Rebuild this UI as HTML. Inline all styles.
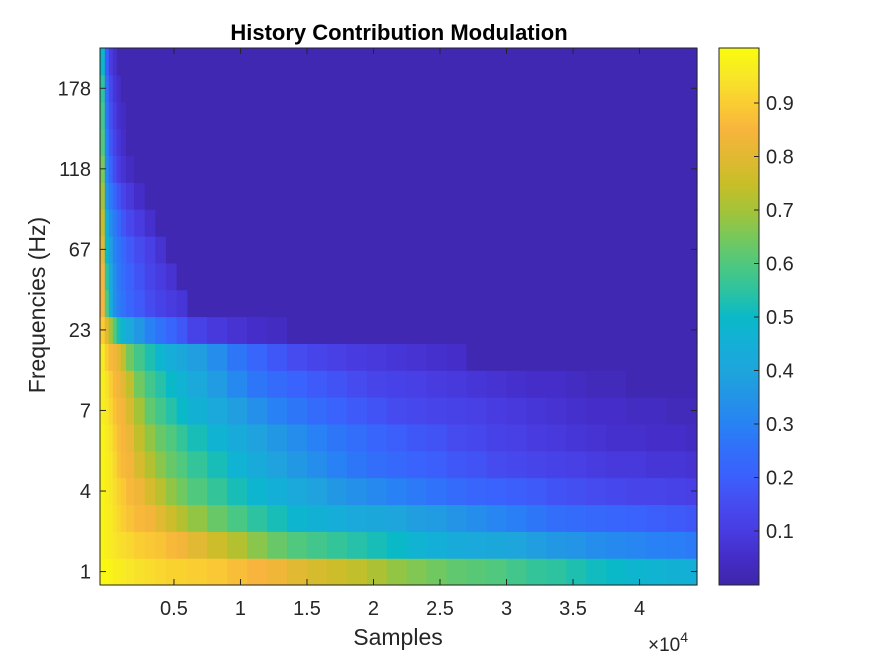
<!DOCTYPE html>
<html><head><meta charset="utf-8">
<style>
body{margin:0;background:#fff;}
svg{display:block;font-family:"Liberation Sans",Arial,sans-serif;}
</style></head>
<body>
<svg id="chart" width="875" height="656" viewBox="0 0 875 656">
<rect width="875" height="656" fill="#fff"/>
<g id="cells"></g>
<g id="cbar"></g>
<g id="axes"></g>
<text x="399" y="40" text-anchor="middle" font-size="22" font-weight="bold" fill="#000">History Contribution Modulation</text>
<text transform="translate(45,305) rotate(-90)" text-anchor="middle" font-size="23" fill="#262626">Frequencies (Hz)</text>
<text x="398" y="645" text-anchor="middle" font-size="23" fill="#262626">Samples</text>
<text x="648" y="651" font-size="19" fill="#262626">×10<tspan dy="-9" font-size="14">4</tspan></text>
</svg>
<script>
const colEdges=[-560,-200,100,400,700,1000,1400,2000,2800,3600,4400,5200,6000,7500,9000,10500,12000,13500,15000,16500,18000,19500,21000,22500,24000,25500,27000,28500,30000,31500,33000,34500,36000,37500,39000,40500,42000,43500,44320];
const BASE=0.015;
const row0=[.99,.99,.98,.97,.97,.96,.95,.94,.93,.92,.91,.91,.9,.89,.87,.85,.83,.8,.78,.76,.74,.71,.68,.66,.64,.62,.61,.6,.58,.56,.55,.53,.51,.5,.48,.47,.46,.45];
const row1=[.98,.97,.96,.95,.94,.93,.92,.9,.89,.88,.86,.84,.8,.76,.72,.67,.63,.6,.58,.56,.54,.52,.5,.47,.45,.43,.42,.41,.4,.38,.36,.35,.33,.32,.31,.3,.29,.28];
const row2=[.98,.97,.96,.94,.92,.9,.88,.86,.84,.8,.76,.72,.68,.63,.59,.55,.52,.48,.46,.44,.42,.41,.4,.38,.37,.35,.33,.31,.29,.27,.25,.24,.23,.22,.21,.2,.19,.18];
const row3=[.98,.97,.95,.93,.91,.89,.86,.83,.78,.73,.68,.64,.6,.56,.52,.48,.45,.42,.39,.36,.34,.32,.3,.28,.26,.24,.22,.21,.2,.19,.17,.16,.15,.14,.13,.13,.12,.11];
const row4=[.98,.97,.95,.92,.88,.86,.84,.78,.72,.67,.63,.6,.56,.52,.47,.43,.39,.36,.33,.3,.27,.25,.23,.21,.2,.18,.17,.15,.14,.13,.12,.11,.1,.09,.09,.08,.08,.07];
const row5=[.98,.96,.94,.9,.87,.85,.82,.74,.68,.63,.6,.56,.52,.47,.43,.39,.36,.33,.3,.27,.25,.22,.2,.18,.17,.15,.14,.12,.11,.1,.09,.08,.07,.06,.06,.05,.05,.04];
const row6=[.97,.95,.92,.88,.86,.84,.78,.7,.62,.58,.54,.5,.46,.42,.38,.34,.3,.27,.24,.21,.19,.17,.15,.14,.13,.12,.11,.1,.09,.08,.07,.06,.05,.05,.04,.04,.03,.03];
const row7=[.97,.94,.9,.86,.84,.8,.74,.64,.58,.54,.5,.47,.42,.37,.32,.27,.24,.21,.19,.17,.15,.13,.12,.11,.1,.09,.08,.07,.06,.05,.05,.04,.03,.03];
const row8=[.96,.9,.86,.84,.8,.74,.64,.58,.53,.48,.44,.41,.38,.33,.27,.22,.18,.15,.13,.11,.1,.09,.08,.07,.06,.05];
const row9=[.9,.8,.7,.6,.52,.47,.42,.36,.3,.26,.22,.18,.12,.09,.07,.05,.04];
const row10=[.85,.6,.45,.33,.29,.26,.22,.19,.15,.12,.1,.08];
const row11=[.85,.55,.42,.33,.28,.25,.21,.17,.13,.1,.07];
const row12=[.8,.5,.38,.3,.27,.23,.19,.15,.11,.07];
const row13=[.75,.45,.33,.28,.23,.18,.14,.1,.06];
const row14=[.7,.35,.28,.22,.17,.13,.09,.05];
const row15=[.65,.32,.22,.15,.1,.07,.04];
const row16=[.6,.3,.18,.12,.08,.05];
const row17=[.58,.27,.16,.1,.06,.04];
const row18=[.55,.25,.14,.08,.05];
const row19=[.5,.2,.1,.06];
const rows=[row0,row1,row2,row3,row4,row5,row6,row7,row8,row9,row10,row11,row12,row13,row14,row15,row16,row17,row18,row19];
const yTickRows=[0,3,6,9,12,15,18];
const yTickLabels=["1","4","7","23","67","118","178"];
const xTicks=[5000,10000,15000,20000,25000,30000,35000,40000];
const xTickLabels=["0.5","1","1.5","2","2.5","3","3.5","4"];
const cbTicks=[0.1,0.2,0.3,0.4,0.5,0.6,0.7,0.8,0.9];
const cbTickLabels=["0.1","0.2","0.3","0.4","0.5","0.6","0.7","0.8","0.9"];

const NS="http://www.w3.org/2000/svg";
const PL=100,PR=697,PT=48,PB=585;
const X0=-560,X1=44320;
const xs=s=>PL+(s-X0)/(X1-X0)*(PR-PL);
const rowH=(PB-PT)/rows.length;
const yTop=i=>PB-(i+1)*rowH;
const yC=i=>PB-(i+0.5)*rowH;
const CBL=719,CBR=759,CBT=48,CBB=585;
const cy=v=>584.5-v*(535);

const stops=[[0,62,38,168],[.05,68,45,200],[.1,72,60,225],[.15,70,75,240],[.2,60,95,252],[.25,50,110,250],[.3,40,130,245],[.35,35,148,230],[.4,30,165,220],[.45,20,175,215],[.5,10,185,200],[.55,45,195,160],[.6,80,200,125],[.65,120,200,90],[.7,165,195,55],[.75,200,190,40],[.8,225,185,50],[.85,248,180,60],[.9,250,205,50],[.95,248,230,40],[1,249,251,14]];
function parula(v){v=Math.max(0,Math.min(1,v));
 for(let k=1;k<stops.length;k++){if(v<=stops[k][0]){const a=stops[k-1],b=stops[k];const t=(v-a[0])/(b[0]-a[0]);
 return `rgb(${Math.round(a[1]+t*(b[1]-a[1]))},${Math.round(a[2]+t*(b[2]-a[2]))},${Math.round(a[3]+t*(b[3]-a[3]))})`;}}
 return "rgb(249,251,14)";}
function mk(tag,attrs,parent){const e=document.createElementNS(NS,tag);for(const k in attrs)e.setAttribute(k,attrs[k]);parent.appendChild(e);return e;}

const cells=document.getElementById('cells');
rows.forEach((r,i)=>{
 for(let j=0;j<colEdges.length-1;j++){
  const v=j<r.length?r[j]:BASE;
  const x=xs(colEdges[j]),w=xs(colEdges[j+1])-x;
  const e=mk('rect',{x:x,y:yTop(i),width:w+0.6,height:rowH+0.6,fill:parula(v)},cells);
  
  
 }
});

const ax=document.getElementById('axes');
const box=mk('rect',{x:PL,y:PT,width:PR-PL,height:PB-PT,fill:'none',stroke:'#262626','stroke-width':1},ax);


yTickRows.forEach((ri,k)=>{
 const y=yC(ri);
 const t1=mk('line',{x1:PL,x2:PL+6,y1:y,y2:y,stroke:'#262626'},ax);
 
 
 const t2=mk('line',{x1:PR,x2:PR-6,y1:y,y2:y,stroke:'#262626'},ax);
 
 
 const tx=mk('text',{x:91,y:y+7,'text-anchor':'end','font-size':20,fill:'#262626'},ax);
 tx.textContent=yTickLabels[k];
 
 
});
xTicks.forEach((s,k)=>{
 const x=xs(s);
 const t1=mk('line',{x1:x,x2:x,y1:PB,y2:PB-6,stroke:'#262626'},ax);
 
 
 const t2=mk('line',{x1:x,x2:x,y1:PT,y2:PT+6,stroke:'#262626'},ax);
 
 
 const tx=mk('text',{x:x,y:615,'text-anchor':'middle','font-size':20,fill:'#262626'},ax);
 tx.textContent=xTickLabels[k];
 
 
});

const cb=document.getElementById('cbar');
for(let p=CBT;p<CBB;p+=1){
 const v=(584.5-p-0.5)/535;
 const e=mk('rect',{x:CBL,y:p,width:CBR-CBL,height:1.2,fill:parula(v)},cb);
 
 
}
const cbf=mk('rect',{x:CBL,y:CBT,width:CBR-CBL,height:CBB-CBT,fill:'none',stroke:'#262626'},cb);


cbTicks.forEach((v,k)=>{
 const y=cy(v);
 const t=mk('line',{x1:CBR,x2:CBR-5,y1:y,y2:y,stroke:'#262626'},cb);
 
 
 const tx=mk('text',{x:766,y:y+7,'font-size':20,fill:'#262626'},cb);
 tx.textContent=cbTickLabels[k];
 
 
});
</script>
</body></html>
